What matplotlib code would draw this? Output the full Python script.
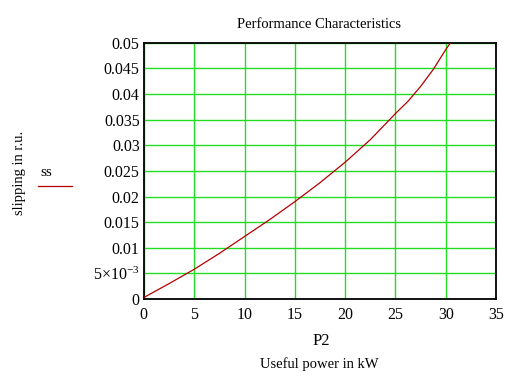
import matplotlib
matplotlib.use('Agg')
import matplotlib.pyplot as plt

## curve values
p2 = [0, 2.5, 5, 7.5, 10, 12.5, 15, 17.5, 20, 22.5, 25, 26.25, 27.5, 28.75, 30, 31]
ss = [0.0003, 0.003, 0.0058, 0.0089, 0.0122, 0.0155, 0.019, 0.0227,
      0.0267, 0.0311, 0.0362, 0.0386, 0.0415, 0.0448, 0.0487, 0.0515]

x_ticks = [0, 5, 10, 15, 20, 25, 30, 35]
y_ticks = [0, 0.005, 0.01, 0.015, 0.02, 0.025, 0.03, 0.035, 0.04, 0.045, 0.05]
y_labels = ['0', r'$\mathregular{5{\times}10^{-3}}$', '0.01', '0.015', '0.02', '0.025',
            '0.03', '0.035', '0.04', '0.045', '0.05']

plt.rcParams['font.family'] = ['Liberation Serif', 'DejaVu Serif']

fig = plt.figure(figsize=(5.25, 3.79), dpi=100)
ax = fig.add_axes([0.274, 0.211, 0.671, 0.676])

ax.plot(p2, ss, color='#b40000', linewidth=0.9, zorder=3)
ax.set_xlim(0, 35)
ax.set_ylim(0, 0.05)
ax.set_xticks(x_ticks)
ax.set_yticks(y_ticks)
ax.set_yticklabels(y_labels)
ax.tick_params(length=0, labelsize=11.5)
ax.tick_params(axis='x', pad=6)
ax.tick_params(axis='y', pad=3)
ax.grid(True, color='#22dd22', linewidth=1.0)
ax.set_axisbelow(True)
for s in ax.spines.values():
    s.set_linewidth(1.3)
    s.set_color('black')

## title, labels and legend in Mathcad layout
fig.text(0.608, 0.935, 'Performance Characteristics', ha='center', va='center', fontsize=10.5)
fig.text(0.611, 0.1, 'P2', ha='center', va='center', fontsize=12)
fig.text(0.608, 0.04, 'Useful power in kW', ha='center', va='center', fontsize=10.5)
fig.text(0.038, 0.545, 'slipping in r.u.', ha='center', va='center', rotation=90, fontsize=10.5)
fig.text(0.088, 0.545, 'ss', ha='center', va='center', fontsize=11)
fig.add_artist(plt.Line2D([0.072, 0.138], [0.508, 0.508], color='#b40000', linewidth=0.9))

fig.savefig('out.png', dpi=100)
